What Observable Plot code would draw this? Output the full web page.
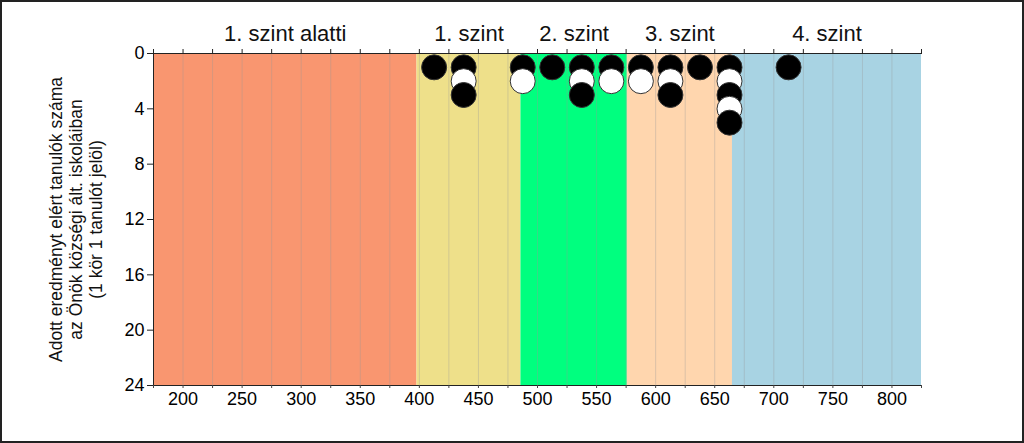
<!DOCTYPE html>
<html>
<head>
<meta charset="utf-8">
<script src="https://cdn.jsdelivr.net/npm/d3@7"></script>
<script src="https://cdn.jsdelivr.net/npm/@observablehq/plot@0.6"></script>
<style>
  html, body { margin: 0; padding: 0; background: #fff; }
  #chart svg { display: block; outline: 2px solid #222; outline-offset: -2px; }
</style>
</head>
<body>
<div id="chart"></div>
<script>
// Competence level bands
const bandNames = ["1. szint alatti", "1. szint", "2. szint", "3. szint", "4. szint"];
const bandStarts = [175, 398, 486, 576, 665];
const bandEnds = [398, 486, 576, 665, 825];
const bandColors = ["#F99670", "#EEE08A", "#00FF7F", "#FFD6AE", "#A8D3E3"];

// Student results: score bin centre and number of students in that bin
const scoreBins = [412.5, 437.5, 487.5, 512.5, 537.5, 562.5, 587.5, 612.5, 637.5, 662.5, 712.5];
const studentCounts = [1, 3, 2, 1, 3, 2, 2, 3, 1, 5, 1];

// Axis ticks
const xTicks = [175, 200, 225, 250, 275, 300, 325, 350, 375, 400, 425, 450, 475, 500, 525, 550, 575, 600, 625, 650, 675, 700, 725, 750, 775, 800, 825];
const xLabelTicks = [200, 250, 300, 350, 400, 450, 500, 550, 600, 650, 700, 750, 800];
const yTicks = [0, 4, 8, 12, 16, 20, 24];
const gridLines = [200, 225, 250, 275, 300, 325, 350, 375, 400, 425, 450, 475, 500, 525, 550, 575, 600, 625, 650, 675, 700, 725, 750, 775, 800];
const yLabel = "Adott eredményt elért tanulók száma\naz Önök községi ált. iskoláiban\n(1 kör 1 tanulót jelöl)";

const bands = bandNames.map((name, i) => ({name, x1: bandStarts[i], x2: bandEnds[i], mid: (bandStarts[i] + bandEnds[i]) / 2}));
const students = [];
scoreBins.forEach((s, i) => {
  for (let k = 1; k <= studentCounts[i]; k++) students.push({score: s, n: k, fill: k % 2 === 1 ? "black" : "white"});
});

const chart = Plot.plot({
  width: 1024,
  height: 443,
  marginLeft: 153,
  marginRight: 103,
  marginTop: 53,
  marginBottom: 58,
  style: {fontFamily: "Arial, 'Liberation Sans', sans-serif", fontSize: "16px", color: "#000", background: "#fff"},
  x: {domain: [175, 825]},
  y: {domain: [0, 24], reverse: true},
  color: {domain: bandNames, range: bandColors},
  marks: [
    Plot.rect(bands, {x1: "x1", x2: "x2", y1: 0, y2: 24, fill: "name"}),
    Plot.ruleX(gridLines, {stroke: "#999", strokeOpacity: 0.35, strokeWidth: 1}),
    Plot.ruleY([0, 24], {stroke: "#222", strokeWidth: 1}),
    Plot.ruleX([175], {stroke: "#222", strokeWidth: 1}),
    Plot.axisX({anchor: "top", ticks: xTicks, tickFormat: () => "", tickSize: 5, stroke: "#222", label: null}),
    Plot.axisX({anchor: "bottom", ticks: xTicks, tickFormat: () => "", tickSize: 3, stroke: "#444", label: null}),
    Plot.axisX({anchor: "bottom", ticks: xLabelTicks, tickSize: 0, tickPadding: 7, fontSize: 18, label: null, fill: "#000"}),
    Plot.axisY({ticks: yTicks, tickSize: 6, tickPadding: 3, fontSize: 18, label: null, stroke: "#222", fill: "#000"}),
    Plot.text(bands, {x: "mid", frameAnchor: "top", dy: -20, lineAnchor: "middle", text: "name", fontSize: 22, fill: "#111"}),
    Plot.text([yLabel], {frameAnchor: "left", rotate: -90, dx: -78, textAnchor: "middle", lineAnchor: "middle", text: d => d, fontSize: 17.5, lineHeight: 1.15, fill: "#111"}),
    Plot.dot(students, {x: "score", y: "n", r: 12.5, fill: "fill", stroke: "#333", strokeWidth: 1})
  ]
});
document.getElementById("chart").append(chart);
</script>
</body>
</html>
